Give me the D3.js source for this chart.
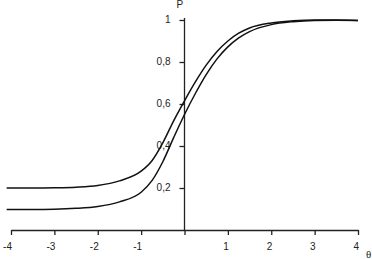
<html>
<head>
<style>
  body { margin: 0; background: #fff; }
  svg { display: block; }
  .tick text { font-family: "Liberation Sans", Arial, Helvetica, sans-serif; font-size: 10px; fill: #222; }
</style>
<script src="https://cdn.jsdelivr.net/npm/d3@7"></script>
</head>
<body>
<svg id="chart"></svg>
<script>
// values
let theta  = [-4.1, -3.5, -3, -2.5, -2, -1.5, -1, -0.75, -0.5, -0.25, 0, 0.25, 0.5, 0.75, 1, 1.25, 1.5, 2, 2.5, 3, 3.5, 4];
let pUpper = [0.200, 0.200, 0.201, 0.204, 0.212, 0.234, 0.28, 0.33, 0.415, 0.52, 0.615, 0.705, 0.785, 0.85, 0.90, 0.937, 0.962, 0.986, 0.996, 1.0, 1.0, 0.998];
let pLower = [0.098, 0.098, 0.099, 0.103, 0.112, 0.134, 0.18, 0.235, 0.325, 0.44, 0.55, 0.65, 0.74, 0.815, 0.872, 0.915, 0.945, 0.978, 0.992, 0.998, 0.999, 0.998];
let xTicks = [-4, -3, -2, -1, 0, 1, 2, 3, 4];
let yTicks = [0.2, 0.4, 0.6, 0.8, 1];

let width = 372, height = 259;
let margin = { top: 20, right: 14, bottom: 29, left: 11 };

let svg = d3.select("#chart").attr("width", width).attr("height", height);

let x = d3.scaleLinear().domain([-4, 4]).range([margin.left, width - margin.right]);
let y = d3.scaleLinear().domain([0, 1]).range([height - margin.bottom, margin.top]);

// minor tick positions
let xMinor = d3.range(-4, 4.001, 0.2).filter(v => Math.abs(v - Math.round(v)) > 0.01);
let yMinor = d3.range(0.04, 1, 0.04).filter(v => Math.abs(v * 5 - Math.round(v * 5)) > 0.01);

// x axis
let gx = svg.append("g").attr("transform", `translate(0,${y(0)})`);
gx.call(d3.axisBottom(x).tickValues(xMinor).tickSize(3).tickSizeOuter(0).tickFormat(""));
gx.call(d3.axisBottom(x).tickValues(xTicks).tickSize(5).tickSizeOuter(0).tickPadding(8)
    .tickFormat(d => d === 0 ? "" : (d < 0 ? "-" + (-d) : d)));
gx.selectAll(".tick text").attr("text-anchor", "end").attr("x", 0.5);

// y axis (line runs a little past 1)
let gy = svg.append("g").attr("transform", `translate(${x(0)},0)`);
gy.call(d3.axisLeft(y).tickValues(yMinor).tickSize(3).tickSizeOuter(0).tickFormat(""));
gy.call(d3.axisLeft(y).tickValues(yTicks).tickSize(5).tickSizeOuter(0).tickPadding(9)
    .tickFormat(d => d === 1 ? "1" : d3.format(".1f")(d).replace(".", ",")));
gy.selectAll(".tick text").attr("dy", "0.28em");
gy.select(".domain").attr("d", `M0,${y(0)}V${y(1) - 2}`);

svg.selectAll(".domain, .tick line").attr("stroke", "#222").attr("stroke-width", 1.3);

// axis titles
svg.append("text").attr("x", x(0) - 8).attr("y", 8)
  .attr("font-family", "Liberation Sans, Arial, sans-serif").attr("font-size", 10).attr("fill", "#222")
  .text("P");
svg.append("text").attr("x", 366).attr("y", 258)
  .attr("font-family", "Liberation Serif, Times New Roman, serif").attr("font-size", 11).attr("fill", "#222")
  .text("θ");

// curves
let line = d3.line().x(d => x(d[0])).y(d => y(d[1])).curve(d3.curveMonotoneX);
[pUpper, pLower].forEach(series => {
  svg.append("path")
    .datum(theta.map((t, i) => [t, series[i]]))
    .attr("d", line)
    .attr("fill", "none")
    .attr("stroke", "#111")
    .attr("stroke-width", 1.5);
});
</script>
</body>
</html>
